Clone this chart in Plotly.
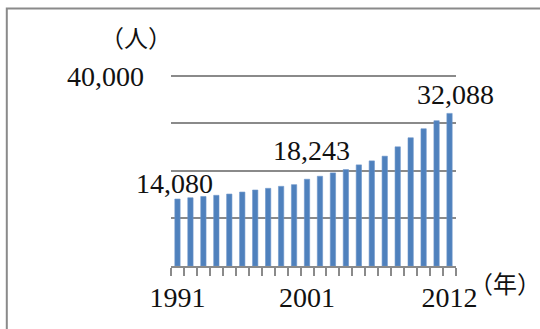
import plotly.graph_objects as go

years = [str(y) for y in range(1991, 2013)]
visitors = [14080, 14350, 14620, 14860, 15130, 15550, 15980, 16330, 16750, 17100,
            18243, 18870, 19570, 20280, 21260, 22100, 23090, 25060, 26960, 28860,
            30550, 32088]
shown_year_labels = ["1991", "2001", "2012"]
y_tick_vals = [10000, 20000, 30000, 40000]
y_tick_text = ["", "", "", "40,000"]
labelled = {"1991": (-2.5, 16), "2001": (4, 29), "2012": (6, 19)}

SERIF = "Liberation Serif"
CJK = "Noto Sans CJK JP"
GRAY = "#8a8a8a"

# plot area: x 171..456 px, y 0 at 265.7 px, 40,000 at 75.8 px
Y_MAX = 41000
T = 71.0
B = 329 - 265.7
H = 265.7 - T

fig = go.Figure()
fig.add_trace(go.Bar(
    x=years, y=visitors,
    marker=dict(color="#4f81bd", line=dict(color="#6c96cb", width=0.6)),
    hoverinfo="skip",
))

annotations = []
for yr, (dx, dy) in labelled.items():
    i = years.index(yr)
    annotations.append(dict(
        x=i, y=visitors[i], xref="x", yref="y", text=f"{visitors[i]:,}",
        showarrow=False, xshift=dx, yshift=dy, yanchor="middle", xanchor="center",
        font=dict(family=SERIF, size=28, color="#111"),
    ))

def py(px):
    return (265.7 - px) / H

# unit labels
annotations.append(dict(x=(136 - 171) / 285, y=py(37), xref="paper", yref="paper", text="（人）",
                        showarrow=False, xanchor="center", yanchor="middle",
                        font=dict(family=CJK, size=24, color="#111")))
annotations.append(dict(x=(505 - 171) / 285, y=py(282), xref="paper", yref="paper", text="（年）",
                        showarrow=False, xanchor="center", yanchor="middle",
                        font=dict(family=CJK, size=24, color="#111")))

fig.update_layout(
    width=540, height=329,
    margin=dict(l=171, r=84, t=T, b=B, pad=0),
    paper_bgcolor="white", plot_bgcolor="white",
    showlegend=False,
    bargap=0.59,
    annotations=annotations,
    shapes=[dict(type="rect", xref="paper", yref="paper",
                 x0=(6.8 - 171) / 285, x1=(560 - 171) / 285,
                 y0=py(345), y1=py(8.7),
                 line=dict(color=GRAY, width=2), fillcolor="rgba(0,0,0,0)", layer="below")],
    xaxis=dict(
        type="category", range=[-0.5, len(years) - 0.5], autorange=False,
        tickmode="array", tickvals=years,
        ticktext=[y if y in shown_year_labels else "" for y in years],
        tickson="boundaries", ticks="outside", ticklen=8, tickwidth=1.5, tickcolor=GRAY,
        showline=True, linecolor=GRAY, linewidth=1.5, showgrid=False,
        tickfont=dict(family=SERIF, size=28, color="#111"), ticklabelstandoff=6,
        tickangle=0, fixedrange=True,
    ),
    yaxis=dict(
        range=[0, Y_MAX], autorange=False, tickmode="array", tickvals=y_tick_vals, ticktext=y_tick_text,
        showgrid=True, gridcolor=GRAY, gridwidth=1.5, zeroline=False, showline=False,
        ticks="", tickfont=dict(family=SERIF, size=28, color="#111"),
        ticklabelstandoff=26, fixedrange=True,
    ),
)

fig.write_html("out.html", config={"displayModeBar": False},
               post_script="document.body.style.margin='0';document.body.style.padding='0';")
